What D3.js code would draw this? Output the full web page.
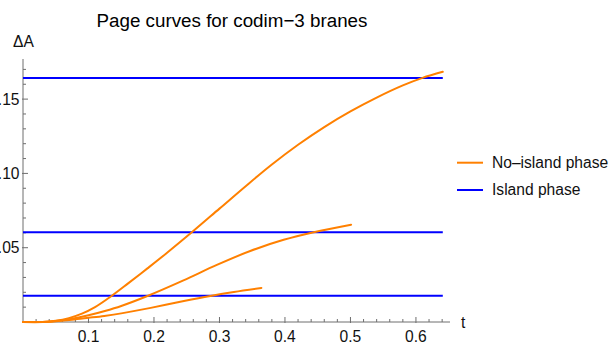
<!DOCTYPE html>
<html>
<head>
<meta charset="utf-8">
<script src="https://cdn.jsdelivr.net/npm/d3@7"></script>
<style>
  html, body { margin: 0; padding: 0; background: #fff; }
  svg { display: block; font-family: Arial, "Liberation Sans", sans-serif; }
</style>
</head>
<body>
<svg id="chart" width="611" height="345"></svg>
<script>
// Page curves, no-island phase (three branes of increasing size)
const smallT  = [0, 0.03, 0.05, 0.075, 0.10, 0.124, 0.15, 0.195, 0.2457, 0.286, 0.322, 0.364];
const smallDA = [0, 0, 0.0005, 0.0015, 0.0028, 0.0041, 0.0058, 0.0095, 0.0141, 0.0175, 0.0202, 0.0229];

const midT  = [0, 0.03, 0.05, 0.075, 0.10, 0.125, 0.15, 0.19, 0.245, 0.296, 0.347, 0.398, 0.444, 0.501];
const midDA = [0, 0, 0.0007, 0.0022, 0.0045, 0.0074, 0.0108, 0.0175, 0.0280, 0.0384, 0.0478, 0.0553, 0.0604, 0.0655];

const largeT  = [0, 0.03, 0.05, 0.07, 0.09, 0.11, 0.133, 0.16, 0.19, 0.22, 0.26, 0.30, 0.34, 0.38, 0.42, 0.46, 0.50, 0.54, 0.58, 0.61, 0.641];
const largeDA = [0, 0, 0.0008, 0.0026, 0.0056, 0.0100, 0.0168, 0.0258, 0.0361, 0.0466, 0.0612, 0.0763, 0.0914, 0.1060, 0.1193, 0.1312, 0.1417, 0.1510, 0.1592, 0.1643, 0.1684];

// Island phase: constant plateaus
const islandLevels = [0.0177, 0.0604, 0.1642];
const islandSpan = [0, 0.641];

const xTicks = [0.1, 0.2, 0.3, 0.4, 0.5, 0.6];
const yTicks = [0.05, 0.10, 0.15];
const legendLabels = ["No\u2013island phase", "Island phase"];

const orange = "#ff8000";
const blue = "#0000ff";
const axisColor = "#6e6e6e";

const svg = d3.select("#chart");
const x = d3.scaleLinear().domain([0, 0.652]).range([23, 450]);
const y = d3.scaleLinear().domain([0, 0.177]).range([322, 59]);

// title
svg.append("text")
  .attr("x", 232).attr("y", 27)
  .attr("text-anchor", "middle")
  .attr("font-size", 18.8)
  .attr("fill", "#000")
  .text("Page curves for codim\u22123 branes");

// minor / major ticks
const xMinor = d3.range(0.02, 0.651, 0.02).filter(v => Math.abs(v * 10 - Math.round(v * 10)) > 1e-6);
const yMinor = d3.range(0.01, 0.1751, 0.01).filter(v => Math.abs(v * 20 - Math.round(v * 20)) > 1e-6);

const axes = svg.append("g").attr("stroke", axisColor).attr("stroke-width", 1);
xMinor.forEach(v => axes.append("line")
  .attr("x1", x(v)).attr("x2", x(v)).attr("y1", y(0)).attr("y2", y(0) - 3));
xTicks.forEach(v => axes.append("line")
  .attr("x1", x(v)).attr("x2", x(v)).attr("y1", y(0) + 1).attr("y2", y(0) - 5));
yMinor.forEach(v => axes.append("line")
  .attr("x1", x(0)).attr("x2", x(0) + 3).attr("y1", y(v)).attr("y2", y(v)));
yTicks.forEach(v => axes.append("line")
  .attr("x1", x(0) - 1).attr("x2", x(0) + 5).attr("y1", y(v)).attr("y2", y(v)));

axes.append("line").attr("x1", x(0)).attr("x2", x(0.652)).attr("y1", y(0)).attr("y2", y(0));
axes.append("line").attr("x1", x(0)).attr("x2", x(0)).attr("y1", y(0)).attr("y2", y(0.177));

// tick labels
svg.append("g").selectAll("text").data(xTicks).join("text")
  .attr("x", d => x(d)).attr("y", 341.5)
  .attr("text-anchor", "middle").attr("font-size", 15.6).attr("fill", "#111")
  .text(d => d3.format(".1f")(d));
svg.append("g").selectAll("text").data(yTicks).join("text")
  .attr("x", 19.5).attr("y", d => y(d) + 5.5)
  .attr("text-anchor", "end").attr("font-size", 15.6).attr("fill", "#111")
  .text(d => d3.format(".2f")(d));

// axis names
svg.append("text").attr("x", 23.5).attr("y", 46.5).attr("text-anchor", "middle")
  .attr("font-size", 15.6).attr("fill", "#111").text("\u0394A");
svg.append("text").attr("x", 461).attr("y", 328).attr("font-size", 15.6)
  .attr("fill", "#111").text("t");

const plot = svg.append("g");

// island plateaus
plot.selectAll("line.island").data(islandLevels).join("line")
  .attr("class", "island")
  .attr("x1", x(islandSpan[0])).attr("x2", x(islandSpan[1]))
  .attr("y1", d => y(d)).attr("y2", d => y(d))
  .attr("stroke", blue).attr("stroke-width", 2);

// no-island curves
const line = d3.line().x(d => x(d[0])).y(d => y(Math.max(0, d[1])))
  .curve(d3.curveCatmullRom.alpha(0.5));
[[smallT, smallDA], [midT, midDA], [largeT, largeDA]].forEach(([ts, vs]) => {
  plot.append("path")
    .datum(ts.map((t, i) => [t, vs[i]]))
    .attr("d", line)
    .attr("fill", "none")
    .attr("stroke", orange)
    .attr("stroke-width", 2)
    .attr("stroke-linecap", "round");
});

// legend
const legend = svg.append("g");
[[orange, 162.7, 168], [blue, 190, 195.3]].forEach(([c, ly, ty], i) => {
  legend.append("line").attr("x1", 457).attr("x2", 483).attr("y1", ly).attr("y2", ly)
    .attr("stroke", c).attr("stroke-width", 2);
  legend.append("text").attr("x", 492).attr("y", ty).attr("font-size", 15.6)
    .attr("fill", "#111").text(legendLabels[i]);
});
</script>
</body>
</html>
